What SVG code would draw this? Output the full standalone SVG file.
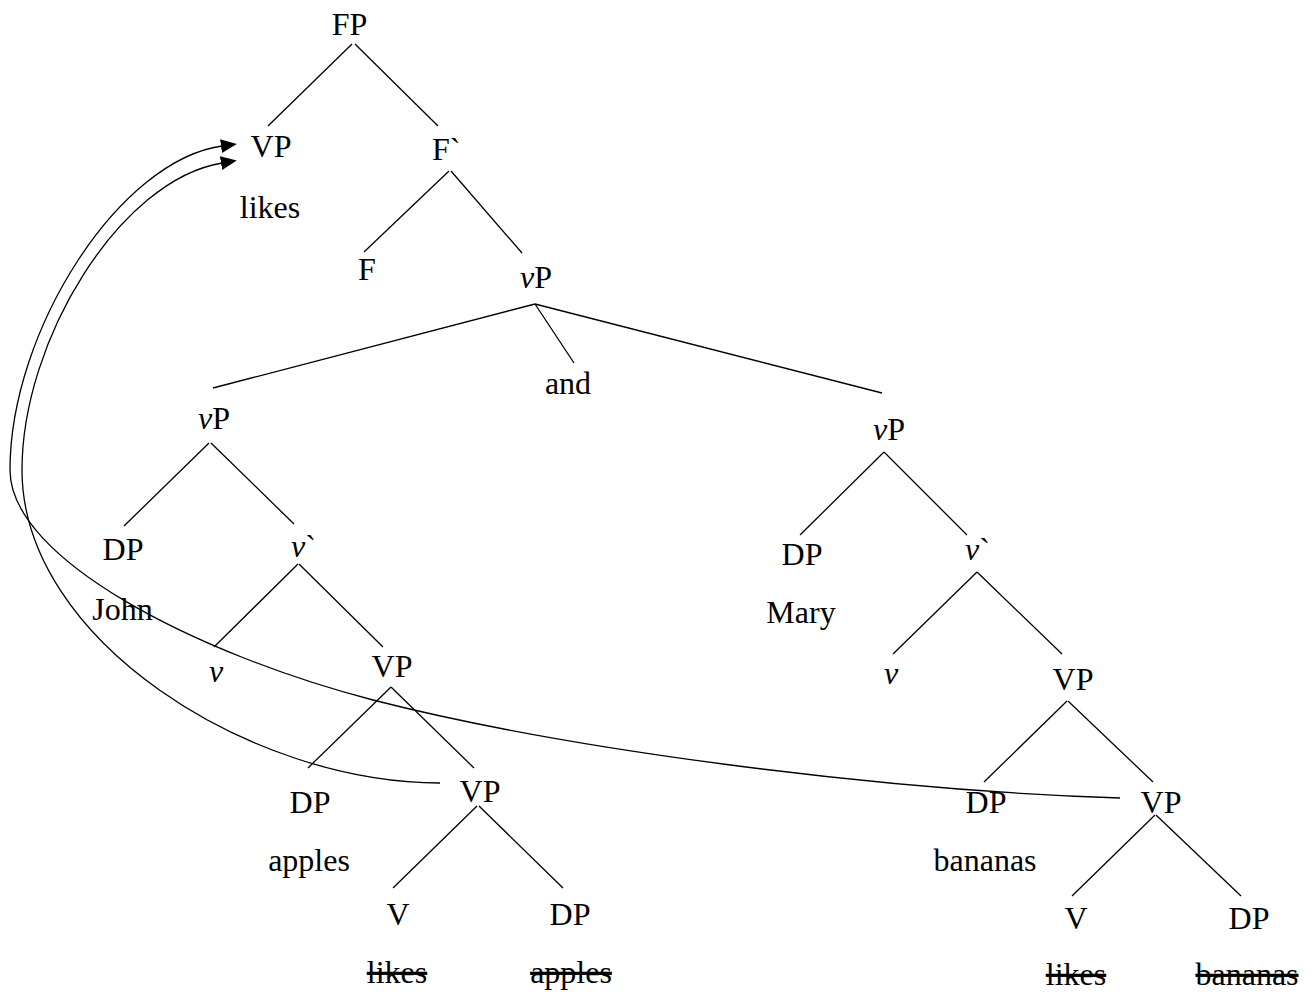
<svg xmlns="http://www.w3.org/2000/svg" width="1312" height="992" viewBox="0 0 1312 992">
<style>
text{font-family:"Liberation Serif","Times New Roman",serif;font-size:32px;fill:#000}
.m{text-anchor:middle}
.i{font-style:italic}
.s{text-decoration:line-through}
.e line{stroke:#000;stroke-width:1.3}
.mv{fill:none;stroke:#000;stroke-width:1.3}
</style>
<defs>
<marker id="ah" markerUnits="userSpaceOnUse" markerWidth="17" markerHeight="15" refX="1" refY="7" orient="auto" viewBox="0 0 17 15">
<path d="M0,0 L16,7 L0,14 z" fill="#000"/>
</marker>
</defs>
<rect width="1312" height="992" fill="#fff"/>
<g id="connectors" class="e">
<line x1="352" y1="44" x2="268" y2="126"/>
<line x1="355" y1="44" x2="438" y2="126"/>
<line x1="449" y1="171" x2="364" y2="252"/>
<line x1="451" y1="171" x2="522" y2="253"/>
<line x1="535" y1="304" x2="213" y2="388"/>
<line x1="535" y1="304" x2="574" y2="363"/>
<line x1="535" y1="304" x2="882" y2="393"/>
<line x1="209" y1="443" x2="124" y2="526"/>
<line x1="211" y1="443" x2="294" y2="524"/>
<line x1="298" y1="564" x2="214" y2="647"/>
<line x1="299" y1="564" x2="383" y2="647"/>
<line x1="391" y1="687" x2="308" y2="768"/>
<line x1="391" y1="687" x2="474" y2="768"/>
<line x1="477" y1="806" x2="393" y2="888"/>
<line x1="479" y1="806" x2="563" y2="888"/>
<line x1="884" y1="452" x2="800" y2="535"/>
<line x1="884" y1="452" x2="967" y2="535"/>
<line x1="977" y1="572" x2="893" y2="654"/>
<line x1="977" y1="572" x2="1062" y2="654"/>
<line x1="1067" y1="701" x2="984" y2="782"/>
<line x1="1068" y1="701" x2="1153" y2="782"/>
<line x1="1155" y1="815" x2="1072" y2="896"/>
<line x1="1156" y1="815" x2="1241" y2="896"/>
<path class="mv" d="M1120,798 C870,790 560,748 373,700 C200,655 10,560 10,470 C10,330 120,160 222,146" marker-end="url(#ah)"/>
<path class="mv" d="M440,783 C250,783 22,640 22,470 C22,340 120,180 222,163" marker-end="url(#ah)"/>
</g>
<g id="n-FP"><text class="m" x="349.5" y="35">FP</text></g>
<g id="n-VP-top"><text class="m" x="271" y="157">VP</text><text class="m" x="270" y="218">likes</text></g>
<g id="n-Fbar"><text x="432" y="160">F`</text></g>
<g id="n-F"><text class="m" x="367" y="280">F</text></g>
<g id="n-vP-top"><text x="520" y="288"><tspan class="i">v</tspan>P</text></g>
<g id="n-and"><text class="m" x="568" y="394">and</text></g>
<g id="n-vP-left"><text x="198" y="429"><tspan class="i">v</tspan>P</text></g>
<g id="n-DP-John"><text class="m" x="123" y="560">DP</text><text class="m" x="122.5" y="620">John</text></g>
<g id="n-vbar-left"><text x="291" y="557"><tspan class="i">v</tspan>`</text></g>
<g id="n-v-left"><text class="m i" x="216" y="682">v</text></g>
<g id="n-VP-left1"><text class="m" x="392" y="677">VP</text></g>
<g id="n-DP-apples"><text class="m" x="310" y="813">DP</text><text class="m" x="309" y="871">apples</text></g>
<g id="n-VP-left2"><text class="m" x="480" y="802">VP</text></g>
<g id="n-V-left"><text class="m" x="398" y="925">V</text><text class="m s" x="397" y="983">likes</text></g>
<g id="n-DP-left-trace"><text class="m" x="570" y="925">DP</text><text class="m s" x="571" y="983">apples</text></g>
<g id="n-vP-right"><text x="873" y="440"><tspan class="i">v</tspan>P</text></g>
<g id="n-DP-Mary"><text class="m" x="802" y="565">DP</text><text class="m" x="801" y="623">Mary</text></g>
<g id="n-vbar-right"><text x="965" y="560"><tspan class="i">v</tspan>`</text></g>
<g id="n-v-right"><text class="m i" x="891" y="684">v</text></g>
<g id="n-VP-right1"><text class="m" x="1073" y="690">VP</text></g>
<g id="n-DP-bananas"><text class="m" x="986" y="813">DP</text><text class="m" x="985" y="871">bananas</text></g>
<g id="n-VP-right2"><text class="m" x="1161" y="813">VP</text></g>
<g id="n-V-right"><text class="m" x="1076" y="929">V</text><text class="m s" x="1076" y="985">likes</text></g>
<g id="n-DP-right-trace"><text class="m" x="1249" y="929">DP</text><text class="m s" x="1247" y="985">bananas</text></g>
</svg>
